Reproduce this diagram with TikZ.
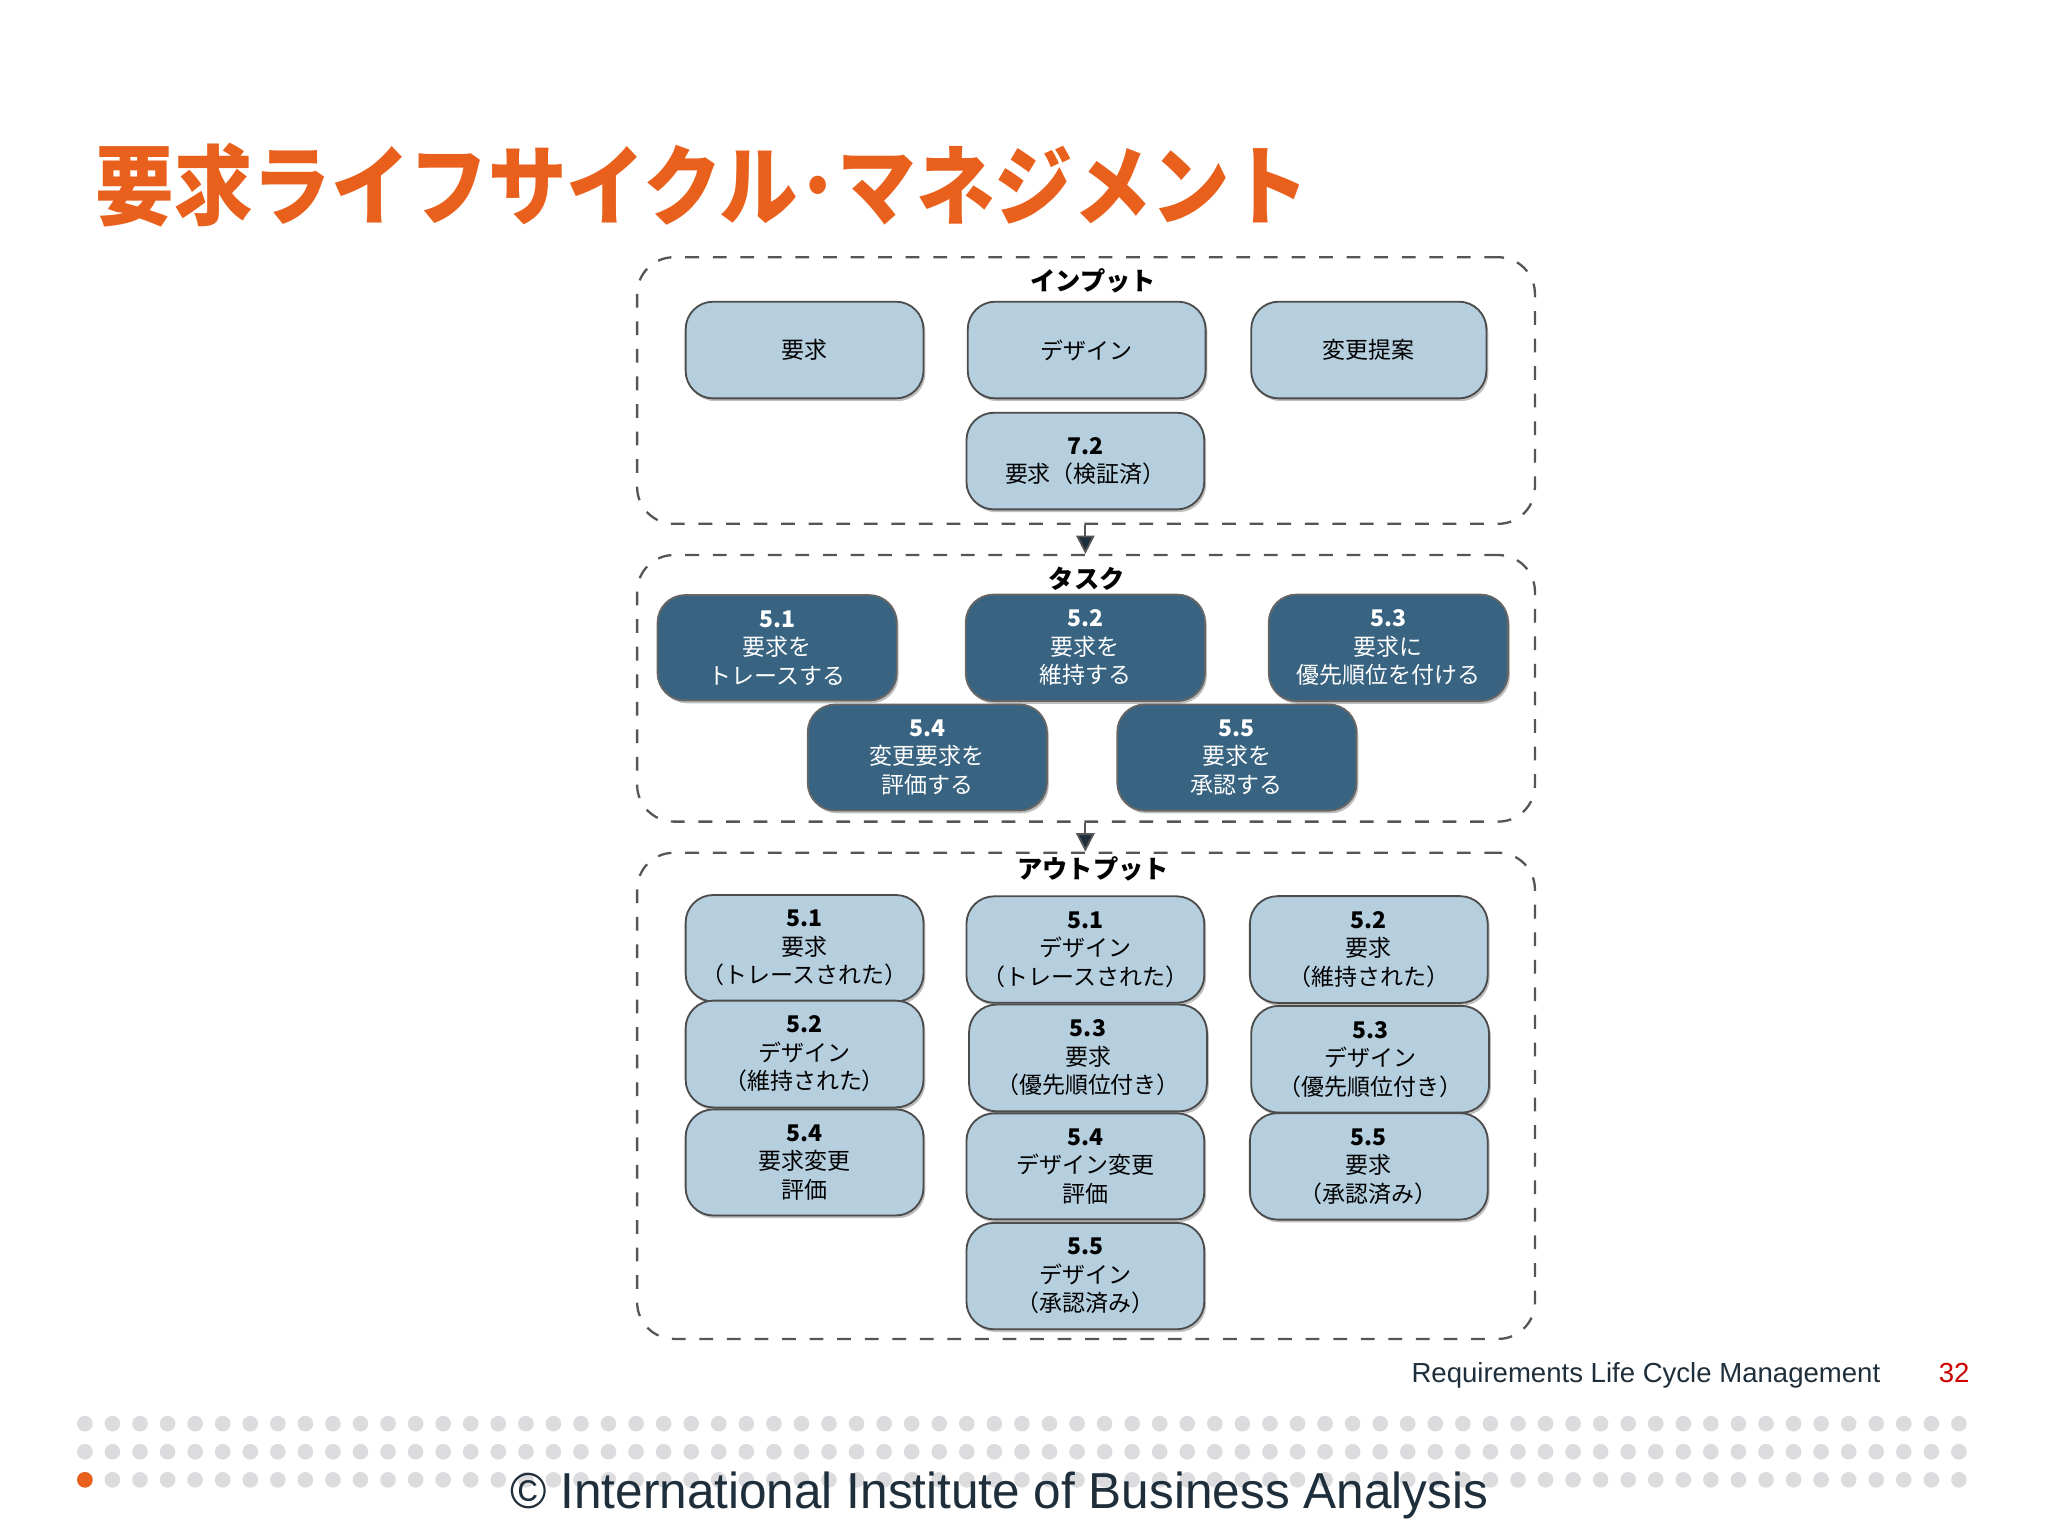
\documentclass[tikz,border=0pt]{standalone}
\usepackage{fontspec}
\setmainfont{Noto Sans CJK JP}
\newfontfamily\latin{Liberation Sans}
\usetikzlibrary{arrows.meta,shadows}
\definecolor{ttlorange}{HTML}{E8601C}
\definecolor{inbox}{HTML}{B6CFDF}
\definecolor{taskbox}{HTML}{386381}
\definecolor{frameline}{HTML}{555555}
\definecolor{footgray}{HTML}{1E2E3A}
\definecolor{dotgray}{HTML}{DCDCDF}
\tikzset{
	light/.style={draw=black!70, fill=inbox, rounded corners=6pt, align=center, minimum width=1.82cm, minimum height=0.74cm, font=\fontsize{5pt}{6.2pt}\selectfont, drop shadow={shadow xshift=0.4pt, shadow yshift=-0.6pt, opacity=0.5}},
	dark/.style={draw=black!60, fill=taskbox, text=white, rounded corners=6pt, align=center, minimum width=1.83cm, minimum height=0.77cm, font=\fontsize{5pt}{6.2pt}\selectfont, drop shadow={shadow xshift=0.4pt, shadow yshift=-0.6pt, opacity=0.5}},
	frame/.style={draw=frameline, dashed, rounded corners=8pt, line width=0.5pt},
	head/.style={font=\bfseries\fontsize{5.5pt}{6.5pt}\selectfont},
	flow/.style={draw=frameline, dashed, -{Triangle[length=4pt,width=4pt,fill=footgray]}, line width=0.4pt}
}
\begin{document}
\begin{tikzpicture}[x=0.01cm, y=-0.01cm]
	\useasboundingbox (0,0) rectangle (1568,1176);
	\node[anchor=west, text=ttlorange, font=\bfseries\fontsize{19pt}{20pt}\selectfont, xscale=0.9] at (62,142) (title) {要求ライフサイクル･マネジメント};

	% input
	\node[frame, minimum width=6.87cm, minimum height=2.04cm] at (831.5,299) (input) {};
	\node[head] at (837,215) (input-label) {インプット};
	\node[light] at (616,268) (in-req) {要求};
	\node[light] at (832,268) (in-design) {デザイン};
	\node[light, minimum width=1.8cm] at (1048,268) (in-change) {変更提案};
	\node[light] at (831,353) (in-verified) {\textbf{7.2}\\要求（検証済）};

	% tasks
	\node[frame, minimum width=6.87cm, minimum height=2.04cm] at (831.5,527) (tasks) {};
	\node[head] at (832,443) (tasks-label) {タスク};
	\node[dark] at (595,496) (t51) {\textbf{5.1}\\要求を\\トレースする};
	\node[dark] at (831,496) (t52) {\textbf{5.2}\\要求を\\維持する};
	\node[dark] at (1063,496) (t53) {\textbf{5.3}\\要求に\\優先順位を付ける};
	\node[dark] at (710,580) (t54) {\textbf{5.4}\\変更要求を\\評価する};
	\node[dark] at (947,580) (t55) {\textbf{5.5}\\要求を\\承認する};

	% outputs
	\node[frame, minimum width=6.87cm, minimum height=3.72cm] at (831.5,839) (outputs) {};
	\node[head] at (837,665) (outputs-label) {アウトプット};
	\node[light, minimum height=0.76cm] at (616,726) (o51r) {\textbf{5.1}\\要求\\（トレースされた）};
	\node[light, minimum height=0.76cm] at (616,807) (o52d) {\textbf{5.2}\\デザイン\\（維持された）};
	\node[light, minimum height=0.76cm] at (616,890) (o54r) {\textbf{5.4}\\要求変更\\評価};
	\node[light, minimum height=0.76cm] at (831,727) (o51d) {\textbf{5.1}\\デザイン\\（トレースされた）};
	\node[light, minimum height=0.76cm] at (833,810) (o53r) {\textbf{5.3}\\要求\\（優先順位付き）};
	\node[light, minimum height=0.76cm] at (831,893) (o54d) {\textbf{5.4}\\デザイン変更\\評価};
	\node[light, minimum height=0.76cm] at (831,977) (o55d) {\textbf{5.5}\\デザイン\\（承認済み）};
	\node[light, minimum height=0.76cm] at (1048,727) (o52r) {\textbf{5.2}\\要求\\（維持された）};
	\node[light, minimum height=0.76cm] at (1049,811) (o53d) {\textbf{5.3}\\デザイン\\（優先順位付き）};
	\node[light, minimum height=0.76cm] at (1048,893) (o55r) {\textbf{5.5}\\要求\\（承認済み）};

	\draw[flow] (input.south -| in-verified) -- (tasks.north -| in-verified);
	\draw[flow] (tasks.south -| in-verified) -- (outputs.north -| in-verified);

	% footer
	\foreach \row in {0,1,2}
		\foreach \i in {0,...,68}
			\fill[dotgray] (65+21.1*\i, 1090+21.5*\row) circle (6);
	\fill[ttlorange] (65,1133) circle (6);
	\node[anchor=east, text=footgray, font=\latin\fontsize{6pt}{7pt}\selectfont] at (1452,1053) (chapter) {Requirements Life Cycle Management};
	\node[anchor=west, text=red!80!black, font=\latin\fontsize{6pt}{7pt}\selectfont] at (1472,1051) (page) {32};
	\node[text=footgray, font=\latin\fontsize{11pt}{12pt}\selectfont, xscale=0.98] at (765,1145) (copyright) {© International Institute of Business Analysis};
\end{tikzpicture}
\end{document}
